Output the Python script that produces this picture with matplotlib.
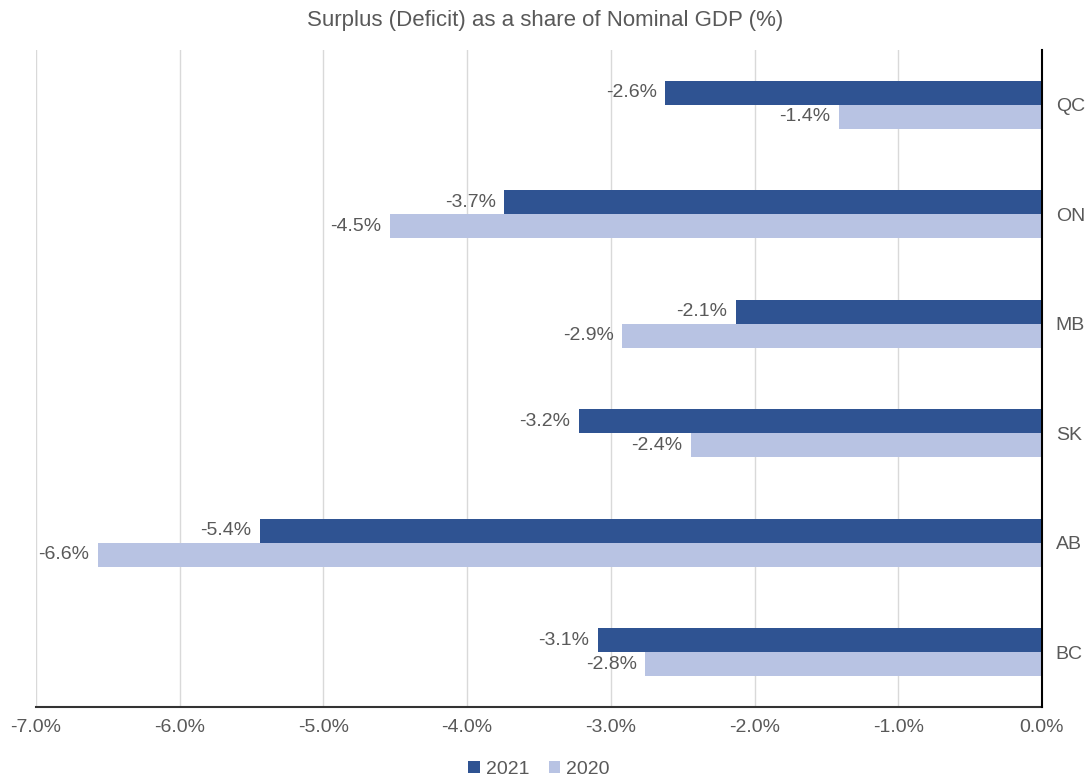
import matplotlib.pyplot as plt
import numpy as np

plt.rcParams["font.family"] = ["Liberation Sans", "DejaVu Sans"]

provinces = ["QC", "ON", "MB", "SK", "AB", "BC"]
values_2021 = [-2.62, -3.74, -2.13, -3.22, -5.44, -3.09]
values_2020 = [-1.41, -4.54, -2.92, -2.44, -6.57, -2.76]

c2021 = "#2f5392"
c2020 = "#b8c3e3"
text_c = "#595959"

fig = plt.figure(figsize=(10.91, 7.78), dpi=100)
ax = fig.add_axes([0.033, 0.0913, 0.922, 0.8444])

y = np.arange(len(provinces))
h = 0.22
ax.barh(y - h / 2, values_2021, height=h, color=c2021, label="2021", zorder=3)
ax.barh(y + h / 2, values_2020, height=h, color=c2020, label="2020", zorder=3)

for yi, v in zip(y, values_2021):
    ax.text(v - 0.06, yi - h / 2, f"{v:.1f}%", ha="right", va="center",
            fontsize=14, color=text_c)
for yi, v in zip(y, values_2020):
    ax.text(v - 0.06, yi + h / 2, f"{v:.1f}%", ha="right", va="center",
            fontsize=14, color=text_c)

ax.set_xlim(-7, 0)
ax.set_ylim(len(provinces) - 0.5, -0.5)
ax.set_xticks(np.arange(-7, 0.5, 1))
ax.set_xticklabels([f"{t:.1f}%" for t in np.arange(-7, 0.5, 1)])
ax.set_yticks(y)
ax.set_yticklabels(provinces)
ax.yaxis.tick_right()
ax.tick_params(axis="both", length=0, labelsize=14, colors=text_c)
ax.tick_params(axis="x", pad=9)
ax.tick_params(axis="y", pad=10)

ax.grid(axis="x", color="#d9d9d9", linewidth=1, zorder=0)
for s in ["top", "left"]:
    ax.spines[s].set_visible(False)
ax.spines["right"].set_color("black")
ax.spines["right"].set_linewidth(1.5)
ax.spines["right"].set_zorder(4)
ax.spines["bottom"].set_color("#333333")
ax.spines["bottom"].set_linewidth(1.5)

fig.suptitle("Surplus (Deficit) as a share of Nominal GDP (%)", y=0.987,
             fontsize=16, color=text_c)

ax.legend(loc="upper center", bbox_to_anchor=(0.5, -0.055), ncol=2, frameon=False,
          fontsize=14, handlelength=0.6, handleheight=0.6, handletextpad=0.3,
          columnspacing=1.0, labelcolor=text_c)

fig.savefig("out.png", dpi=100)
